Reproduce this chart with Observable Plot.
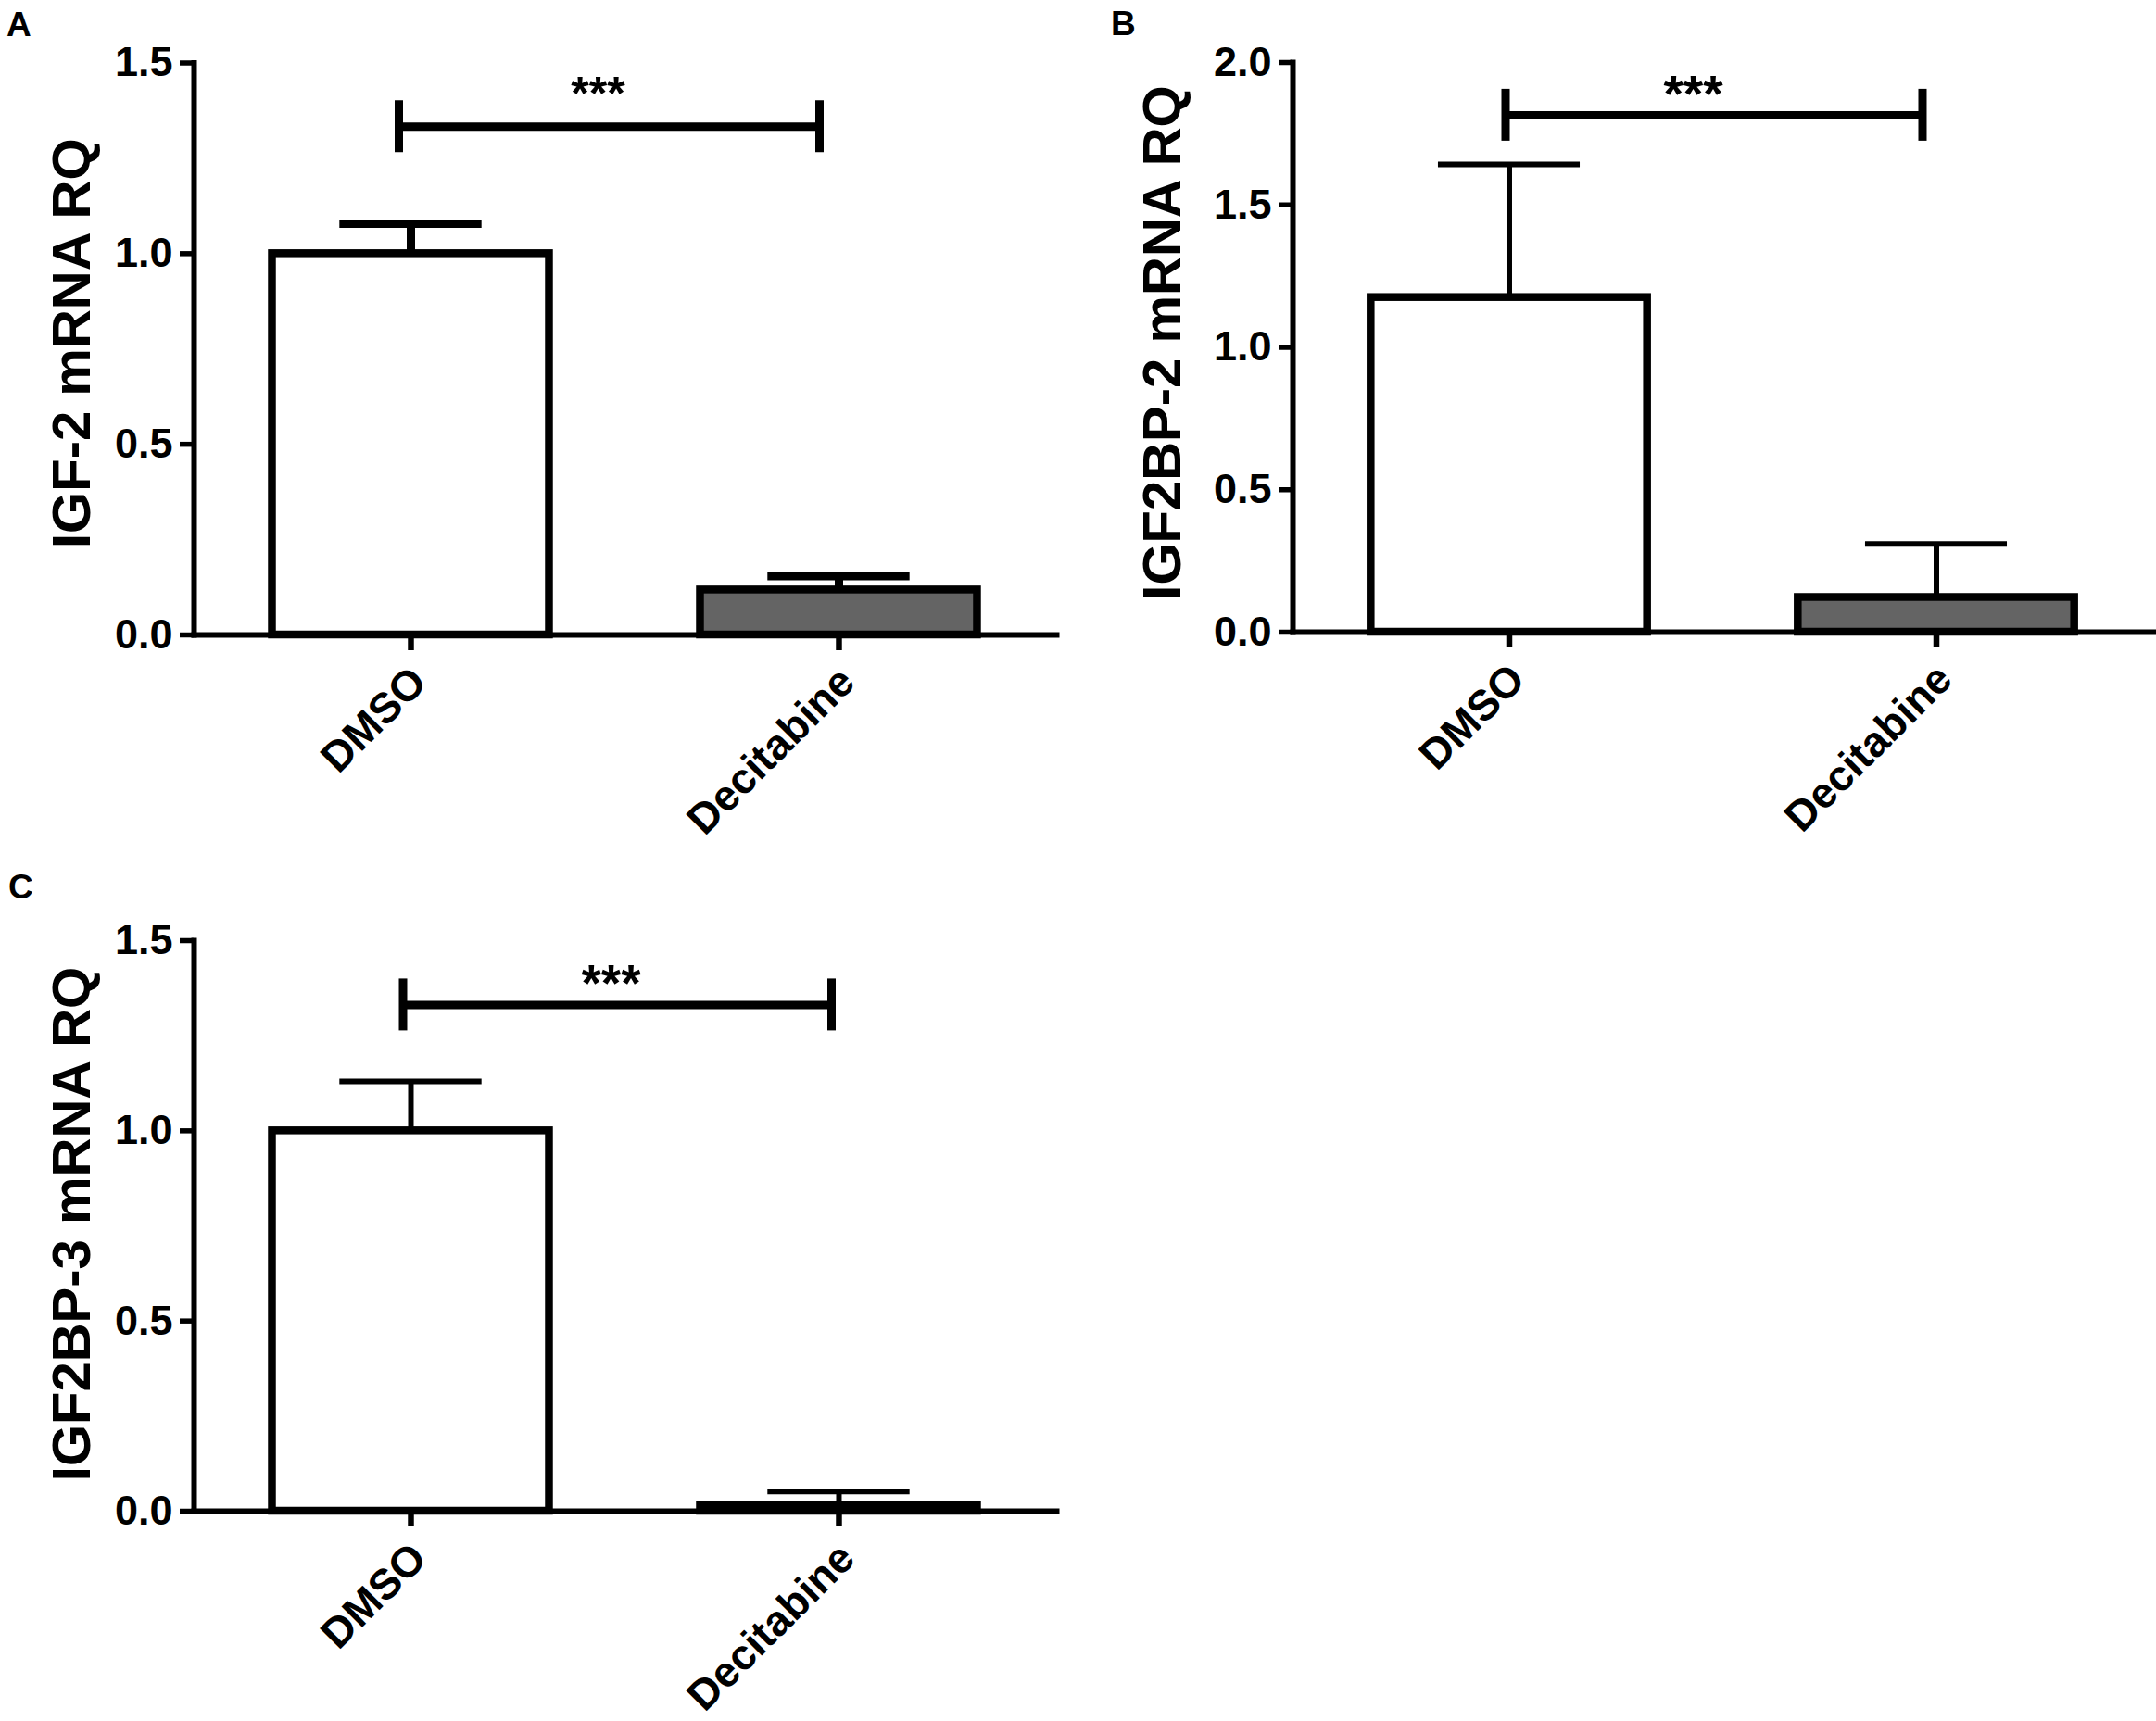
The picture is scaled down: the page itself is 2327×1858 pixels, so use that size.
<!DOCTYPE html>
<html>
<head>
<meta charset="utf-8">
<script src="https://cdn.jsdelivr.net/npm/d3@7"></script>
<script src="https://cdn.jsdelivr.net/npm/@observablehq/plot@0.6"></script>
<style>
  body { margin: 0; background: #fff; }
  #fig { position: relative; width: 2327px; height: 1858px; overflow: hidden; background: #fff;
         font-family: "Liberation Sans", Arial, sans-serif; }
  .panel { position: absolute; }
  .letter { position: absolute; font-weight: bold; font-size: 37px; line-height: 1; color: #000; }
</style>
</head>
<body>
<div id="fig"></div>
<script>
// ---- data ----
const categories = ["DMSO", "Decitabine"];
const panelLetters = ["A", "B", "C"];
const yTitles = ["IGF-2 mRNA RQ", "IGF2BP-2 mRNA RQ", "IGF2BP-3 mRNA RQ"];

const igf2Mean = [1.0, 0.118];
const igf2Upper = [1.078, 0.154];

const igf2bp2Mean = [1.175, 0.122];
const igf2bp2Upper = [1.642, 0.31];

const igf2bp3Mean = [1.0, 0.015];
const igf2bp3Upper = [1.13, 0.052];

const yMaxes = [1.5, 2.0, 1.5];
const yTicksA = [0, 0.5, 1.0, 1.5];
const yTicksB = [0, 0.5, 1.0, 1.5, 2.0];
const yTicksC = [0, 0.5, 1.0, 1.5];

const bracketLevels = [1.333, 1.815, 1.331];
const sigLabels = ["***", "***", "***"];

// ---- layout / style (pixels) ----
const layout = [
  {left: 0, top: 0, width: 1150, height: 930, mt: 67.5, mb: 245, mr: 10,
   errW: 9, capW: 8.7, bl: -13, br: -21, starDx: -29, starDy: -34.5, starFs: 50,
   titleDx: -154, titleDy: -6, letter: {left: 7, top: 8}},
  {left: 1186, top: 0, width: 1141, height: 930, mt: 67, mb: 248, mr: 3,
   errW: 6, capW: 6, bl: -4, br: -15, starDx: -32, starDy: -22, starFs: 55,
   titleDx: -163, titleDy: -5, letter: {left: 1199, top: 7}},
  {left: 0, top: 930, width: 1150, height: 928, mt: 85, mb: 227, mr: 10,
   errW: 6, capW: 6, bl: -8.5, br: -8, starDx: -15, starDy: -22.5, starFs: 55,
   titleDx: -154, titleDy: -2, letter: {left: 9, top: 939}}
];

const fig = document.getElementById("fig");

function makePanel(k, means, uppers, yTicks) {
  const L = layout[k];
  const rows = categories.map((c, i) => ({i, cat: c, mean: means[i], upper: uppers[i]}));
  const sig = [{level: bracketLevels[k], label: sigLabels[k]}];
  const hw = 0.3236;    // half bar width (x units)
  const capHW = 0.166;  // half cap width (x units)

  const svg = Plot.plot({
    width: L.width,
    height: L.height,
    marginLeft: 209,
    marginRight: L.mr,
    marginTop: L.mt,
    marginBottom: L.mb,
    x: {type: "linear", domain: [-0.5065, 1.5087]},
    y: {domain: [0, yMaxes[k]]},
    color: {domain: categories, range: ["#ffffff", "#646464"]},
    style: {
      fontFamily: '"Liberation Sans", Arial, sans-serif',
      fontWeight: "bold",
      background: "white",
      color: "black",
      overflow: "visible"
    },
    marks: [
      // error bars
      Plot.ruleX(rows, {x: "i", y1: "mean", y2: "upper", stroke: "black", strokeWidth: L.errW}),
      Plot.ruleY(rows, {y: "upper", x1: d => d.i - capHW, x2: d => d.i + capHW, stroke: "black", strokeWidth: L.capW}),
      // bars
      Plot.rect(rows, {x1: d => d.i - hw, x2: d => d.i + hw, y1: 0, y2: "mean",
                       fill: "cat", stroke: "black", strokeWidth: 8.5}),
      // significance bracket
      Plot.ruleY(sig, {y: "level", x1: () => 0, x2: () => 1, insetLeft: L.bl, insetRight: -L.br,
                       stroke: "black", strokeWidth: 9}),
      Plot.ruleX(sig, {x: () => 0, y1: "level", y2: "level", dx: L.bl, insetTop: -28, insetBottom: -28,
                       stroke: "black", strokeWidth: 9}),
      Plot.ruleX(sig, {x: () => 1, y1: "level", y2: "level", dx: L.br, insetTop: -28, insetBottom: -28,
                       stroke: "black", strokeWidth: 9}),
      Plot.text(sig, {x: () => 0.5, y: "level", text: "label", dx: L.starDx, dy: L.starDy,
                      fontSize: L.starFs, fontWeight: "bold", fill: "black"}),
      // axes
      Plot.axisY({ticks: yTicks, tickFormat: d3.format(".1f"), tickSize: 15, tickPadding: 8,
                  fontSize: 45, fontWeight: "bold", strokeWidth: 5.5, label: null}),
      Plot.axisX({ticks: [0, 1], tickFormat: () => "", tickSize: 17, strokeWidth: 6.5, label: null}),
      Plot.text(rows, {x: "i", text: "cat", frameAnchor: "bottom", rotate: -45, textAnchor: "end",
                       lineAnchor: "middle", dx: 9, dy: 43, fontSize: 46, fontWeight: "bold", fill: "black"}),
      Plot.frame({anchor: "left", stroke: "black", strokeWidth: 6, strokeLinecap: "square"}),
      Plot.frame({anchor: "bottom", stroke: "black", strokeWidth: 6}),
      // y-axis title
      Plot.text([yTitles[k]], {text: d => d, frameAnchor: "left", rotate: -90, textAnchor: "middle",
                               lineAnchor: "top", dx: L.titleDx, dy: L.titleDy,
                               fontSize: 58, fontWeight: "bold", fill: "black"})
    ]
  });
  svg.classList.add("panel");
  svg.style.left = L.left + "px";
  svg.style.top = L.top + "px";
  fig.appendChild(svg);

  const lab = document.createElement("div");
  lab.className = "letter";
  lab.textContent = panelLetters[k];
  lab.style.left = L.letter.left + "px";
  lab.style.top = L.letter.top + "px";
  fig.appendChild(lab);
}

makePanel(0, igf2Mean, igf2Upper, yTicksA);
makePanel(1, igf2bp2Mean, igf2bp2Upper, yTicksB);
makePanel(2, igf2bp3Mean, igf2bp3Upper, yTicksC);
</script>
</body>
</html>
